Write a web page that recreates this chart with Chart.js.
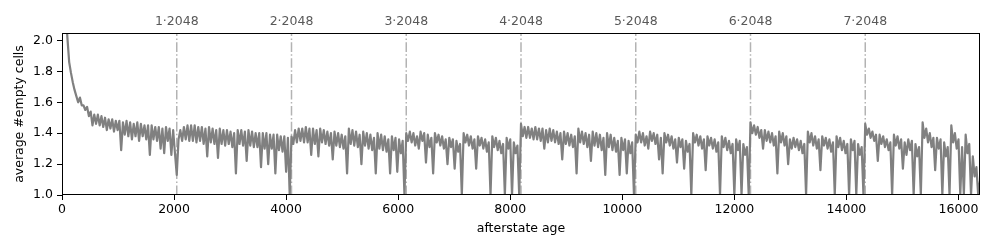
<!DOCTYPE html>
<html>
<head>
<meta charset="utf-8">
<script src="https://cdn.jsdelivr.net/npm/chart.js@4.4.1/dist/chart.umd.min.js"></script>
<style>
  html, body { margin: 0; padding: 0; background: #fff; }
  #wrap { width: 996px; height: 249px; }
</style>
</head>
<body>
<div id="wrap"><canvas id="chart" width="996" height="249"></canvas></div>
<script>
// sampled every 32 ages, one array per 2048-block (8 rows of 256 ages each)
// samples swing between the upper and lower edge of the noisy band
const ageStep = 32;
const block0 = [3.2, 2.6, 2.2, 2.02, 1.86, 1.79, 1.73, 1.68,
    1.64, 1.60, 1.63, 1.58, 1.58, 1.55, 1.57, 1.51,
    1.54, 1.45, 1.52, 1.46, 1.52, 1.45, 1.51, 1.44,
    1.50, 1.42, 1.49, 1.43, 1.49, 1.41, 1.48, 1.42,
    1.48, 1.29, 1.47, 1.39, 1.48, 1.38, 1.47, 1.36,
    1.46, 1.38, 1.47, 1.35, 1.46, 1.38, 1.45, 1.36,
    1.45, 1.26, 1.45, 1.36, 1.44, 1.35, 1.44, 1.30,
    1.43, 1.27, 1.44, 1.35, 1.43, 1.26, 1.42, 1.27];
const block1 = [1.13, 1.36, 1.42, 1.35, 1.44, 1.36, 1.45, 1.35,
    1.45, 1.35, 1.45, 1.34, 1.44, 1.35, 1.44, 1.33,
    1.43, 1.25, 1.44, 1.34, 1.43, 1.33, 1.42, 1.24,
    1.43, 1.33, 1.42, 1.32, 1.42, 1.33, 1.41, 1.31,
    1.40, 1.14, 1.42, 1.33, 1.42, 1.32, 1.41, 1.22,
    1.42, 1.32, 1.41, 1.31, 1.40, 1.31, 1.40, 1.18,
    1.40, 1.30, 1.40, 1.20, 1.39, 1.30, 1.39, 1.14,
    1.39, 1.29, 1.38, 1.28, 1.38, 1.15, 1.37, 1.0];
const block2 = [1.38, 1.33, 1.42, 1.34, 1.43, 1.35, 1.43, 1.34,
    1.44, 1.34, 1.43, 1.26, 1.43, 1.33, 1.42, 1.25,
    1.43, 1.34, 1.42, 1.33, 1.41, 1.32, 1.40, 1.23,
    1.41, 1.32, 1.40, 1.31, 1.39, 1.30, 1.38, 1.14,
    1.43, 1.33, 1.42, 1.32, 1.41, 1.31, 1.39, 1.20,
    1.41, 1.32, 1.40, 1.30, 1.39, 1.29, 1.37, 1.14,
    1.40, 1.30, 1.39, 1.29, 1.38, 1.28, 1.36, 1.14,
    1.38, 1.29, 1.37, 1.15, 1.36, 1.27, 1.35, 1.0];
const block3 = [1.40, 1.35, 1.41, 1.34, 1.40, 1.32, 1.38, 1.30,
    1.41, 1.35, 1.40, 1.21, 1.39, 1.31, 1.37, 1.14,
    1.40, 1.34, 1.39, 1.32, 1.38, 1.30, 1.36, 1.20,
    1.37, 1.31, 1.36, 1.17, 1.35, 1.28, 1.33, 1.0,
    1.40, 1.34, 1.39, 1.32, 1.38, 1.30, 1.36, 1.17,
    1.38, 1.32, 1.37, 1.30, 1.36, 1.28, 1.34, 1.0,
    1.38, 1.31, 1.37, 1.29, 1.35, 1.27, 1.33, 1.0,
    1.37, 1.30, 1.36, 1.0, 1.34, 1.27, 1.32, 1.0];
const block4 = [1.46, 1.38, 1.44, 1.37, 1.44, 1.37, 1.43, 1.36,
    1.44, 1.36, 1.43, 1.35, 1.43, 1.30, 1.42, 1.34,
    1.43, 1.35, 1.42, 1.34, 1.41, 1.33, 1.40, 1.23,
    1.41, 1.33, 1.40, 1.32, 1.39, 1.31, 1.38, 1.14,
    1.43, 1.34, 1.41, 1.33, 1.40, 1.31, 1.39, 1.22,
    1.41, 1.32, 1.40, 1.31, 1.39, 1.29, 1.37, 1.13,
    1.40, 1.31, 1.39, 1.29, 1.37, 1.28, 1.35, 1.13,
    1.37, 1.29, 1.36, 1.14, 1.35, 1.27, 1.34, 1.0];
const block5 = [1.39, 1.34, 1.41, 1.34, 1.40, 1.32, 1.38, 1.30,
    1.41, 1.35, 1.40, 1.33, 1.39, 1.23, 1.37, 1.14,
    1.40, 1.34, 1.39, 1.32, 1.38, 1.30, 1.36, 1.21,
    1.37, 1.31, 1.36, 1.17, 1.35, 1.28, 1.33, 1.0,
    1.40, 1.34, 1.39, 1.32, 1.38, 1.30, 1.36, 1.16,
    1.38, 1.32, 1.37, 1.30, 1.36, 1.28, 1.34, 1.0,
    1.38, 1.31, 1.37, 1.29, 1.35, 1.27, 1.33, 1.0,
    1.36, 1.29, 1.35, 1.0, 1.33, 1.26, 1.31, 1.0];
const block6 = [1.47, 1.40, 1.45, 1.39, 1.44, 1.37, 1.42, 1.30,
    1.42, 1.35, 1.41, 1.34, 1.40, 1.32, 1.38, 1.14,
    1.41, 1.34, 1.40, 1.32, 1.38, 1.20, 1.36, 1.30,
    1.37, 1.31, 1.36, 1.29, 1.35, 1.27, 1.33, 1.0,
    1.41, 1.34, 1.40, 1.32, 1.38, 1.30, 1.36, 1.16,
    1.38, 1.32, 1.37, 1.30, 1.36, 1.28, 1.34, 1.0,
    1.38, 1.31, 1.37, 1.29, 1.35, 1.27, 1.33, 1.0,
    1.36, 1.29, 1.35, 1.0, 1.33, 1.26, 1.31, 1.0];
const block7 = [1.46, 1.39, 1.43, 1.37, 1.41, 1.35, 1.39, 1.22,
    1.39, 1.33, 1.38, 1.31, 1.36, 1.29, 1.34, 1.0,
    1.39, 1.32, 1.38, 1.30, 1.36, 1.17, 1.34, 1.26,
    1.36, 1.29, 1.35, 1.0, 1.33, 1.25, 1.31, 1.0,
    1.47, 1.37, 1.43, 1.34, 1.40, 1.31, 1.37, 1.16,
    1.37, 1.30, 1.36, 1.0, 1.34, 1.25, 1.31, 1.0,
    1.45, 1.34, 1.40, 1.30, 1.36, 1.0, 1.31, 1.0,
    1.39, 1.27, 1.33, 1.0, 1.25, 1.12, 1.18, 1.0,
    1.09];

const blockSize = 2048;
const blockMarks = [1, 2, 3, 4, 5, 6, 7];
const xTicks = [0, 2000, 4000, 6000, 8000, 10000, 12000, 14000, 16000];
const yTicks = [1.0, 1.2, 1.4, 1.6, 1.8, 2.0];
const xMax = 16384;
const yMin = 1.0;
const yMax = 2.048;

const lineColor = '#808080';
const markColor = '#b3b3b3';
const fontFamily = '"DejaVu Sans", sans-serif';

const emptyCells = [].concat(block0, block1, block2, block3, block4, block5, block6, block7);
const series = emptyCells.map((v, i) => ({ x: i * ageStep, y: v }));

const markSets = blockMarks.map(k => ({
    data: [{ x: k * blockSize, y: yMin }, { x: k * blockSize, y: yMax }],
    borderColor: markColor,
    borderWidth: 1.5,
    borderDash: [9.6, 2.4, 1.5, 2.4],
    pointRadius: 0,
    order: 2
}));

// frame around the plot area, like matplotlib spines
const framePlugin = {
    id: 'frame',
    afterDraw(chart) {
        const { ctx, chartArea: a } = chart;
        ctx.save();
        ctx.strokeStyle = '#000';
        ctx.lineWidth = 1;
        ctx.strokeRect(a.left + 0.5, a.top + 0.5, a.right - a.left - 1, a.bottom - a.top - 1);
        ctx.restore();
    }
};

Chart.defaults.font.family = fontFamily;
Chart.defaults.font.size = 12.5;
Chart.defaults.color = '#000';

new Chart(document.getElementById('chart'), {
    type: 'line',
    data: {
        datasets: [{
            data: series,
            borderColor: lineColor,
            borderWidth: 2.2,
            borderJoinStyle: 'round',
            pointRadius: 0,
            tension: 0,
            order: 0
        }].concat(markSets)
    },
    options: {
        responsive: false,
        animation: false,
        events: [],
        layout: { padding: { left: 0, right: 16, top: 0, bottom: 0 } },
        plugins: { legend: { display: false }, tooltip: { enabled: false } },
        scales: {
            x: {
                type: 'linear',
                position: 'bottom',
                min: 0,
                max: xMax,
                afterBuildTicks: axis => { axis.ticks = xTicks.map(v => ({ value: v })); },
                afterFit: axis => { axis.height = 54; },
                ticks: { padding: 2, maxRotation: 0, autoSkip: false, color: '#000', callback: v => String(v) },
                grid: { drawOnChartArea: false, drawTicks: true, tickLength: 5, color: '#000' },
                border: { display: false },
                title: { display: true, text: 'afterstate age', padding: { top: 0, bottom: 13 }, color: '#000' }
            },
            x2: {
                type: 'linear',
                position: 'top',
                min: 0,
                max: xMax,
                afterBuildTicks: axis => { axis.ticks = blockMarks.map(k => ({ value: k * blockSize })); },
                afterFit: axis => { axis.height = 33; },
                ticks: {
                    padding: 4,
                    maxRotation: 0,
                    autoSkip: false,
                    color: '#595959',
                    callback: v => (v / blockSize) + '\u00b72048'
                },
                grid: { display: false, drawTicks: false },
                border: { display: false }
            },
            y: {
                type: 'linear',
                min: yMin,
                max: yMax,
                afterBuildTicks: axis => { axis.ticks = yTicks.map(v => ({ value: v })); },
                afterFit: axis => { axis.width = 62; },
                ticks: { padding: 4, color: '#000', callback: v => v.toFixed(1) },
                grid: { drawOnChartArea: false, drawTicks: true, tickLength: 5, color: '#000' },
                border: { display: false },
                title: { display: true, text: 'average #empty cells', padding: { top: 12, bottom: 0 }, color: '#000' }
            }
        }
    },
    plugins: [framePlugin]
});
</script>
</body>
</html>
